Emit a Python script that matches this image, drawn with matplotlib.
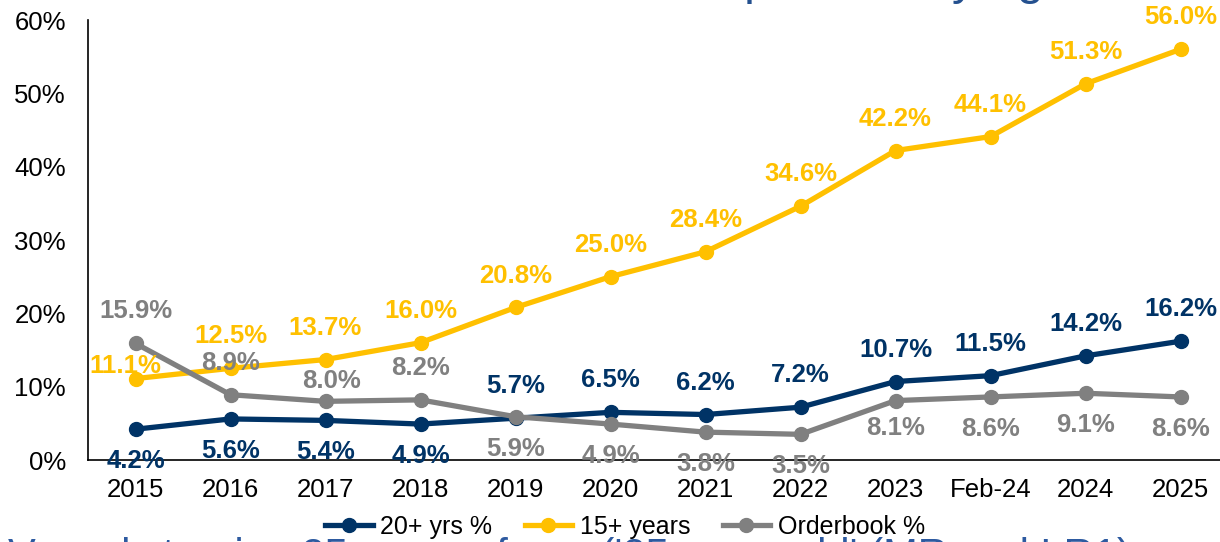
import matplotlib
matplotlib.use("Agg")
import matplotlib.pyplot as plt
from matplotlib.lines import Line2D

plt.rcParams["font.family"] = ["Liberation Sans", "DejaVu Sans"]

# ---- data -------------------------------------------------------------
periods = ["2015", "2016", "2017", "2018", "2019", "2020", "2021", "2022",
           "2023", "Feb-24", "2024", "2025"]
share_20_plus = [4.2, 5.6, 5.4, 4.9, 5.7, 6.5, 6.2, 7.2, 10.7, 11.5, 14.2, 16.2]
share_15_plus = [11.1, 12.5, 13.7, 16.0, 20.8, 25.0, 28.4, 34.6, 42.2, 44.1, 51.3, 56.0]
orderbook = [15.9, 8.9, 8.0, 8.2, 5.9, 4.9, 3.8, 3.5, 8.1, 8.6, 9.1, 8.6]
series_names = ["20+ yrs %", "15+ years", "Orderbook %"]
y_ticks = [0, 10, 20, 30, 40, 50, 60]

# label placement: +1 above the point, -1 below
side_20 = [-1, -1, -1, -1, 1, 1, 1, 1, 1, 1, 1, 1]
side_15 = [1] * 12
side_ob = [1, 1, 1, 1, -1, -1, -1, -1, -1, -1, -1, -1]

NAVY = "#003366"
GOLD = "#FFC000"
GREY = "#808080"

# ---- figure -----------------------------------------------------------
W, H = 1220, 542
fig = plt.figure(figsize=(W / 100, H / 100), dpi=100)
ax = fig.add_axes([88 / W, 82 / H, 1140 / W, 440 / H])

x = list(range(len(periods)))
series = [(share_20_plus, NAVY, side_20),
          (share_15_plus, GOLD, side_15),
          (orderbook, GREY, side_ob)]

handles = []
for (vals, col, _), name in zip(series, series_names):
    ax.plot(x, vals, color=col, lw=3.8, marker="o", ms=10,
            solid_capstyle="round", zorder=3, clip_on=False)
    handles.append(Line2D([], [], color=col, lw=3.8, marker="o", ms=10))

OFF = 23  # points between a point and its label
for vals, col, sides in series:
    for i, (v, s) in enumerate(zip(vals, sides)):
        dx, dy = 0, s * OFF
        if col == GOLD and i == 0:
            dx, dy = -7, 9
        if col == GREY and i == 2:
            dx, dy = 4, 15
        if col == GREY and i == 8:
            dy = -20
        ax.annotate(f"{v:.1f}%", (i, v), xytext=(dx, dy),
                    textcoords="offset points", ha="center", va="center",
                    fontsize=18.5, fontweight="bold", color=col, zorder=5)

ax.set_xlim(-0.5, len(periods) - 0.5)
ax.set_ylim(0, 60)
ax.set_xticks(x)
ax.set_xticklabels(periods)
ax.set_yticks(y_ticks)
ax.set_yticklabels([f"{t}%" for t in y_ticks])
ax.tick_params(axis="both", length=0, labelsize=18.5, colors="black")
ax.tick_params(axis="y", pad=16)
ax.tick_params(axis="x", pad=13)

for side in ("top", "right"):
    ax.spines[side].set_visible(False)
for side in ("left", "bottom"):
    ax.spines[side].set_color("black")
    ax.spines[side].set_linewidth(1.2)

fig.legend(handles, series_names, loc="center",
           bbox_to_anchor=(625 / W, 1 - 527 / H), ncol=3, frameon=False,
           fontsize=18, handlelength=1.9, handletextpad=0.3,
           columnspacing=1.3, borderpad=0)

# slide headings above and below the chart (only partly inside the frame)
fig.text(1071 / W, 1 + 6 / H, "Tanker fleet composition by age",
         ha="right", va="baseline", fontsize=35, color="#24508F")
fig.text(8 / W, -26 / H,
         "Vessels turning 25 years of age ('25 years old' (MR and LR1)",
         ha="left", va="baseline", fontsize=30, color="#2D5AA0")

fig.savefig("out.png", dpi=100)
